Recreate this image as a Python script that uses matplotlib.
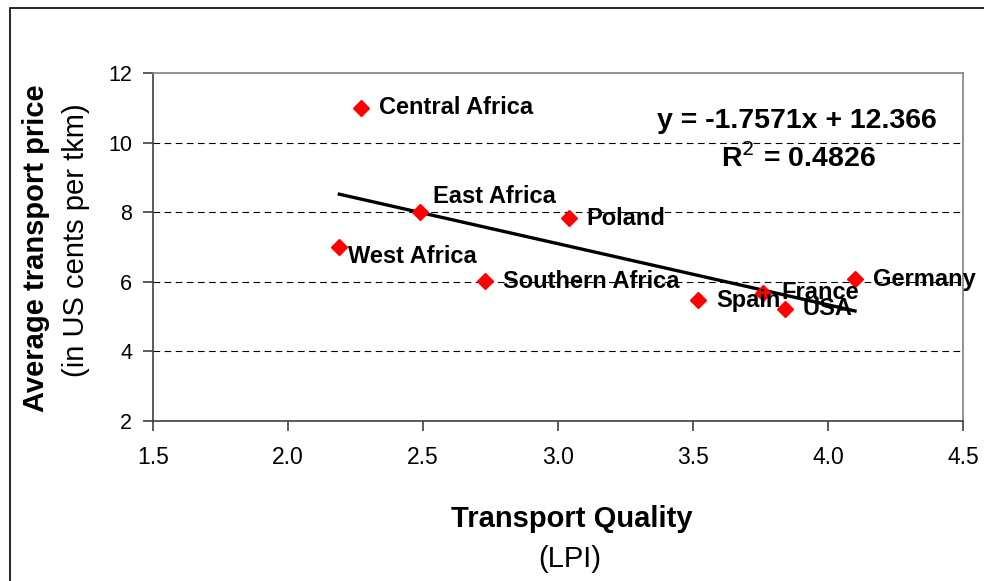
import matplotlib
matplotlib.use("Agg")
import matplotlib.pyplot as plt
from matplotlib.patches import Rectangle
import numpy as np

plt.rcParams['font.family'] = ['Liberation Sans', 'DejaVu Sans']

regions = ["Central Africa", "East Africa", "West Africa", "Poland", "Southern Africa",
           "Spain", "France", "USA", "Germany"]
lpi = [2.27, 2.49, 2.19, 3.04, 2.73, 3.52, 3.76, 3.84, 4.10]
price = [11.0, 8.0, 7.0, 7.82, 6.02, 5.47, 5.68, 5.22, 6.08]
slope = -1.7571
intercept = 12.366
r2 = 0.4826
xticks = [1.5, 2.0, 2.5, 3.0, 3.5, 4.0, 4.5]
yticks = [2, 4, 6, 8, 10, 12]

# label offsets in points (dx, dy)
offsets = {"East Africa": (9, 11), "West Africa": (6, -7)}

fig = plt.figure(figsize=(9.84, 5.81), dpi=100)
ax = fig.add_axes([153/984, 1-421/581, (963-153)/984, (421-73)/581])

ax.set_xlim(1.5, 4.5)
ax.set_ylim(2, 12)
ax.set_xticks(xticks)
ax.set_xticklabels([f"{v:.1f}" for v in xticks])
ax.set_yticks(yticks)
ax.set_yticklabels([str(v) for v in yticks])

for y in yticks[1:-1]:
    ax.axhline(y, color='black', lw=0.8, ls=(0, (6, 4)), zorder=1)

xl = np.array([min(lpi), max(lpi)])
ax.plot(xl, slope*xl + intercept, color='black', lw=2.4, zorder=3)

ax.plot(lpi, price, ls='none', marker='D', ms=8.5, color='#ff0000', mec='#ff0000', zorder=4)

for name, x, y in zip(regions, lpi, price):
    dx, dy = offsets.get(name, (13, 0))
    ax.annotate(name, (x, y), xytext=(dx, dy), textcoords='offset points',
                ha='left', va='center', fontsize=17, fontweight='bold', zorder=5)

ax.text(797/984, 1-121/581, f"y = {slope}x + {intercept}", transform=fig.transFigure,
        ha='center', va='center', fontsize=20.5, fontweight='bold')
ax.text(798/984, 1-158/581, f"R$^{{2}}$ = {r2}", transform=fig.transFigure,
        ha='center', va='center', fontsize=20.5, fontweight='bold')

for s in ['top', 'right']:
    ax.spines[s].set_color('#808080')
    ax.spines[s].set_linewidth(1.2)
for s in ['left', 'bottom']:
    ax.spines[s].set_color('#404040')
    ax.spines[s].set_linewidth(1.2)

ax.tick_params(axis='both', direction='out', length=7, width=1.2, color='#404040',
               labelcolor='black')
ax.tick_params(axis='y', pad=8, labelsize=15.5)
ax.tick_params(axis='x', pad=11, labelsize=16.5)

fig.text(572/984, 1-519/581, "Transport Quality", ha='center', va='center',
         fontsize=21, fontweight='bold')
fig.text(570/984, 1-559/581, "(LPI)", ha='center', va='center', fontsize=21)
fig.text(36/984, 1-248/581, "Average transport price", ha='center', va='center',
         rotation=90, fontsize=21, fontweight='bold')
fig.text(76/984, 1-240/581, "(in US cents per tkm)", ha='center', va='center',
         rotation=90, fontsize=21)

fig.patches.append(Rectangle((10/984, -0.2), 1.2, 0.2 + (1-8/581),
                             transform=fig.transFigure, fill=False,
                             edgecolor='black', lw=1.2, figure=fig))

fig.savefig("out.png", dpi=100)
